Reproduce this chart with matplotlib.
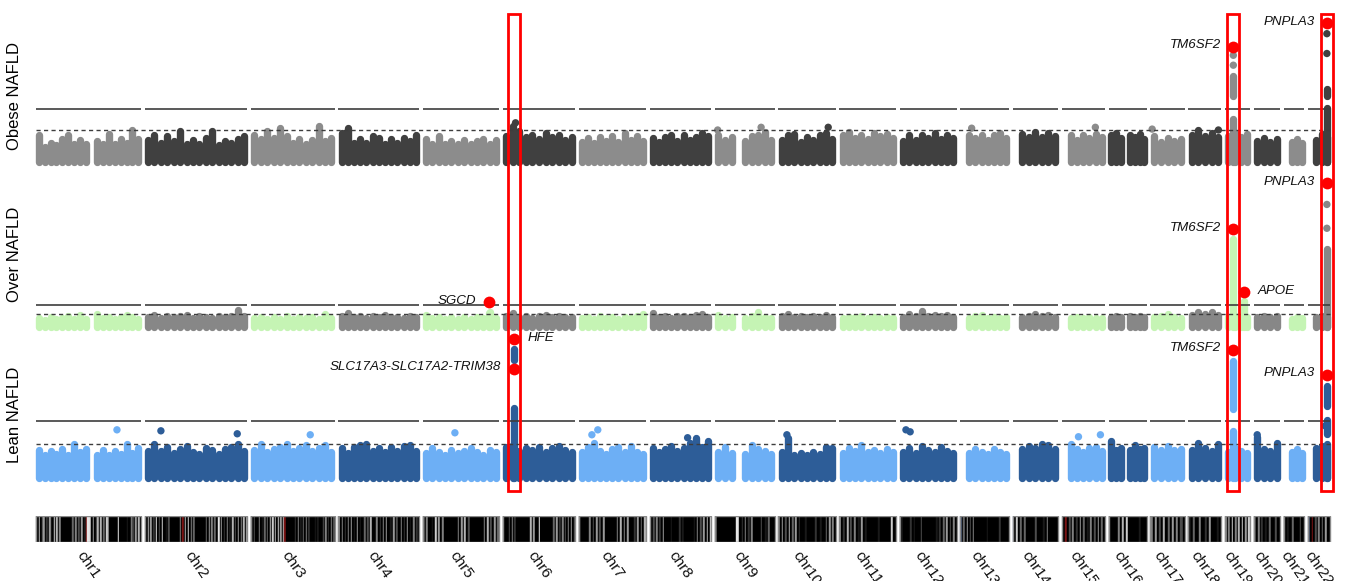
import matplotlib.pyplot as plt
from matplotlib.patches import Rectangle

plt.rcParams['font.family'] = ['Liberation Sans', 'DejaVu Sans']

# chromosome lengths (Mb, hg19)
CHR_LEN = [249.3, 243.2, 198.0, 191.2, 180.9, 171.1, 159.1, 146.4, 141.2, 135.5, 135.0,
           133.9, 115.2, 107.3, 102.5, 90.4, 81.2, 78.1, 59.1, 63.0, 48.1, 51.3]
CHR_NAMES = ["chr%d" % i for i in range(1, 23)]
GAP = 8.9

SUGGESTIVE = 5.0
GENOME_WIDE = 7.3
BASE = 1.5

# max -log10(p) per bin along each chromosome (None = no SNPs)
obese_tops = [
    [4.5, 3.1, 3.6, 3.3, 4.0, 4.4, 3.5, 3.9, 3.4, None, 3.8, 3.4, 4.6, 3.5, 4.0, 3.6, 5.0, 4.0],
    [3.9, 4.4, 3.6, 4.3, 3.8, 4.9, 3.4, 3.9, 3.5, 4.1, 4.9, 3.3, 3.8, 3.6, 4.0, 4.3],
    [4.5, 4.0, 4.9, 4.1, 5.2, 4.3, 3.6, 4.0, 3.5, 3.9, 5.5, 3.8, 4.1],
    [4.7, 5.2, 3.6, 4.0, 3.6, 4.3, 4.1, 3.5, 4.0, 3.6, 4.1, 3.8, 4.5],
    [4.0, 3.5, 4.3, 3.4, 3.8, 3.4, 3.9, 3.5, 3.8, 4.0, 3.4, 3.9],
    [4.3, 5.5, 4.9, 4.2, 4.5, 4.0, 4.7, 4.2, 4.5, 3.9, 4.2],
    [3.7, 4.1, 3.6, 4.2, 3.8, 4.3, 3.7, 4.7, 3.9, 4.3, 3.8],
    [4.1, 3.7, 4.2, 4.5, 3.8, 4.5, 3.9, 4.2, 4.7, 4.3],
    [4.4, 3.9, 4.2, None, 3.8, 4.3, 4.5, 4.8, 3.9],
    [3.9, 4.4, 4.6, 3.7, 4.2, 3.9, 4.4, 4.7, 4.0],
    [4.4, 4.8, 4.1, 4.5, 4.0, 4.7, 4.3, 4.6, 4.1],
    [3.8, 4.5, 3.9, 4.4, 4.1, 4.7, 4.0, 4.5, 4.1],
    [None, 4.5, 4.1, 4.5, 3.9, 4.4, 4.7, 4.1],
    [None, 4.6, 4.2, 4.8, 4.2, 4.7, 4.3],
    [None, 4.5, 3.9, 4.4, 4.1, 4.6, 4.2],
    [4.4, 4.7, 4.1, None, 4.5, 4.2, 4.6, 4.0],
    [4.3, 3.7, 4.1, 3.8, 4.0],
    [4.5, 5.0, 4.3, 4.7, 4.2],
    [4.3, 4.7, 4.2, 4.6],
    [3.8, 4.1, 3.7, 4.0],
    [None, 3.7, 4.0, 3.6],
    [None, 3.9, 4.6, 4.2],
]

over_tops = [
    [3.8, 3.4, 4.0, 3.5, 3.9, 4.5, 3.7, 4.6, 3.6, None, 4.8, 3.8, 4.2, 3.6, 4.0, 4.7, 4.1, 3.7],
    [4.2, 4.6, 3.9, 4.3, 4.0, 4.4, 4.7, 3.9, 4.4, 4.1, 3.8, 4.5, 4.0, 4.3, 6.0, 4.4],
    [3.8, 4.2, 3.6, 4.0, 3.7, 4.3, 3.6, 4.1, 3.8, 4.2, 3.7, 4.8, 3.9],
    [4.3, 5.3, 4.0, 4.4, 3.9, 4.5, 4.1, 4.6, 4.0, 4.2, 3.9, 4.5, 4.1],
    [4.6, 3.8, 4.2, 3.6, 4.1, 3.7, 4.0, 3.6, 4.2, 3.8, 5.4, 3.9],
    [4.3, 5.2, 4.1, 4.4, 3.9, 4.3, 4.6, 4.0, 4.3, 4.1, 4.2],
    [3.9, 4.2, 3.7, 4.3, 3.8, 4.1, 3.7, 4.2, 3.9, 4.3, 4.8],
    [5.3, 4.1, 4.4, 3.9, 4.3, 4.5, 4.0, 4.6, 4.8, 4.2],
    [4.6, 3.9, 4.2, None, 3.9, 4.3, 5.4, 4.1, 3.9],
    [4.3, 4.8, 4.2, 4.5, 4.0, 4.4, 4.1, 4.6, 4.2],
    [3.9, 4.2, 4.0, 4.3, 3.8, 4.1, 3.9, 4.2, 3.8],
    [4.2, 4.8, 4.4, 5.8, 4.3, 4.6, 4.4, 4.7, 4.1],
    [None, 3.9, 4.3, 4.7, 3.9, 4.2, 3.8, 4.0],
    [None, 4.2, 4.5, 4.9, 4.3, 4.6, 4.1],
    [None, 3.8, 4.1, 3.9, 4.2, 3.8, 3.9],
    [4.2, 4.4, 4.0, None, 4.3, 4.1, 4.5, 4.0],
    [4.0, 4.3, 4.8, 4.2, 3.9],
    [4.7, 5.4, 4.8, 5.4, 4.6],
    [4.0, 4.3, 4.1, 4.0],
    [4.2, 4.4, 4.1, 4.3],
    [None, 3.7, 4.0, 3.8],
    [None, 4.1, 4.3, 4.2],
]

lean_tops = [
    [4.4, 3.8, 4.3, 4.0, 4.5, 3.9, 5.0, 4.2, 4.5, None, 3.9, 4.4, 3.8, 4.3, 4.0, 5.0, 4.1, 4.6],
    [4.3, 5.0, 4.3, 4.7, 4.1, 4.5, 4.8, 4.2, 4.0, 4.6, 4.4, 4.0, 4.5, 4.7, 5.0, 4.3],
    [4.4, 5.0, 4.2, 4.5, 4.7, 5.0, 4.3, 4.6, 4.9, 4.3, 4.6, 4.9, 4.2],
    [4.6, 4.1, 4.7, 4.9, 5.0, 4.3, 4.6, 4.2, 4.7, 4.3, 4.8, 4.9, 4.3],
    [4.1, 4.6, 4.2, 3.9, 4.4, 4.1, 4.3, 4.6, 4.2, 3.9, 4.4, 4.2],
    [4.7, 4.9, 4.3, 4.6, 4.4, 4.7, 4.2, 4.6, 4.8, 4.4, 4.2],
    [4.2, 4.7, 5.1, 4.3, 4.0, 4.5, 4.7, 4.2, 4.8, 4.2, 4.0],
    [4.6, 4.2, 4.5, 4.8, 4.3, 4.6, 5.1, 5.6, 4.7, 5.3],
    [4.2, 4.7, 4.1, None, 4.0, 4.9, 4.5, 4.3, 4.0],
    [4.2, 5.6, 3.9, 4.1, 3.8, 4.2, 4.0, 4.7, 4.6],
    [4.1, 4.6, 4.3, 4.9, 4.2, 4.4, 4.1, 4.5, 4.2],
    [4.2, 4.6, 4.1, 4.8, 4.4, 4.2, 4.7, 4.3, 4.1],
    [None, 4.1, 4.5, 4.2, 4.0, 4.5, 4.2, 4.0],
    [None, 4.5, 4.8, 4.6, 5.0, 4.9, 4.5],
    [None, 5.0, 4.5, 4.2, 4.6, 4.7, 4.3],
    [5.3, 4.4, 4.6, None, 4.4, 4.9, 4.5, 4.6],
    [4.7, 4.4, 4.8, 4.4, 4.5],
    [4.4, 5.1, 4.6, 4.3, 5.0],
    [4.2, 4.6, 4.3, 4.1],
    [5.7, 4.5, 4.3, 5.1],
    [None, 4.2, 4.5, 4.1],
    [None, 4.6, 4.8, 4.4],
]

# dense runs of SNPs at one locus: (chrom, pos Mb, low, high)
obese_columns = [(19, 19.4, 1.5, 6.2), (19, 19.4, 8.8, 11.0),
                 (22, 44.3, 1.5, 7.4), (22, 44.3, 8.8, 9.6)]
over_columns = [(19, 19.4, 1.5, 24.7), (19, 45.4, 1.5, 8.4),
                (22, 44.3, 1.5, 22.0), (5, 155.8, 1.5, 5.3)]
lean_columns = [(6, 26.0, 1.5, 8.6), (6, 26.0, 13.5, 14.6),
                (19, 19.4, 1.5, 6.3), (19, 19.4, 8.5, 13.4),
                (22, 44.3, 1.5, 5.0), (22, 44.3, 6.0, 7.4), (22, 44.3, 8.8, 10.8)]

# single SNPs: (chrom, pos Mb, -log10 p)
obese_dots = [(9, 6.0, 5.0), (9, 109.0, 5.3), (10, 118.0, 5.3), (13, 27.0, 5.2),
              (15, 80.0, 5.3), (17, 4.0, 5.1), (18, 71.0, 5.0), (6, 30.0, 5.8),
              (19, 19.4, 12.2), (19, 19.4, 13.3), (22, 44.3, 13.5), (22, 44.3, 15.7)]
over_dots = [(22, 44.3, 27.6), (22, 44.3, 33.9)]
lean_dots = [(1, 192.0, 6.4), (2, 38.0, 6.3), (2, 219.0, 6.0), (3, 140.0, 5.9),
             (5, 76.0, 6.1), (7, 31.0, 5.9), (7, 45.0, 6.4), (8, 90.0, 5.6),
             (10, 20.0, 5.9), (12, 14.0, 6.4), (12, 24.0, 6.2), (15, 40.0, 5.7),
             (15, 92.0, 5.9), (20, 8.0, 5.9), (22, 40.5, 6.8)]

# lead SNPs: (gene, chrom, pos Mb, -log10 p, label side)
obese_hits = [("TM6SF2", 19, 19.4, 14.25, "left"), ("PNPLA3", 22, 44.3, 16.9, "left")]
over_hits = [("SGCD", 5, 155.8, 8.1, "left"), ("TM6SF2", 19, 19.4, 27.3, "left"),
             ("APOE", 19, 45.4, 10.7, "right"), ("PNPLA3", 22, 44.3, 39.5, "left")]
lean_hits = [("HFE", 6, 26.1, 15.6, "right"), ("SLC17A3-SLC17A2-TRIM38", 6, 25.9, 12.6, "left"),
             ("TM6SF2", 19, 19.4, 14.5, "left"), ("PNPLA3", 22, 44.3, 12.0, "left")]

highlight_loci = [(6, 26.0), (19, 19.4), (22, 44.3)]

# gene density bands per chromosome (0 = black ... 9 = light, r = red, b = blue)
ideogram_bands = [
    "5070360206108070500000000405030601r9980602707040860000009000001005306070",
    "507060209030800103000000050r0708050400000000406050400906020501070306050706",
    "1030005010404070807080607r0000000205010405020000101000305020503",
    "60502050601060100403070005020506001060300502060105020",
    "30500108060500000000506070300000000507030604",
    "10003050200000000007060009000000000406020503050603",
    "100000503060306000000050705060002060407",
    "80305020600001000020100000010503060708",
    "40000000000009900205020500000300104000",
    "5060307040602000100000200100406050",
    "6020703050106010000001000000800",
    "010000201000300000000102040603050",
    "b040603050000000010000000200000",
    "b08040400000300010500000",
    "80r030502060401050306040",
    "00000507080000001000",
    "5060307040605030",
    "1040050020600010",
    "605080507080608",
    "30502010400300",
    "0010040000300",
    "b0r0305040600",
]

OFFS = []
_p = 0.0
for _n in CHR_LEN:
    OFFS.append(_p)
    _p += _n + GAP
GENOME_END = OFFS[-1] + CHR_LEN[-1]

W, H = 1346, 581
XLIM = (-14.2, 3092.0)
LEFT, WIDTH = 30 / W, 1310 / W
PT = 5.3
LINE = "#3d3d3d"


def gx(ch, pos):
    return OFFS[ch - 1] + pos


def band_color(c):
    if c == "r":
        return "#7a1414"
    if c == "b":
        return "#4a5a7a"
    g = int(c) / 9 * 0.9
    return (g, g, g)


def draw_panel(ax, tops, columns, dots, hits, colors, ymax):
    ax.set_xlim(*XLIM)
    ax.set_ylim(0, ymax)
    ax.axis("off")

    for i, t in enumerate(tops):
        n = len(t)
        xs = [OFFS[i] + (j + 0.5) * CHR_LEN[i] / n for j, v in enumerate(t) if v is not None]
        ys = [v for v in t if v is not None]
        ax.vlines(xs, BASE, ys, colors=colors[i % 2], linewidth=PT, capstyle="round", zorder=2)

    for ch, pos, lo, hi in columns:
        ax.vlines(gx(ch, pos), lo, hi, colors=colors[(ch - 1) % 2], linewidth=PT,
                  capstyle="round", zorder=2, clip_on=False)

    if dots:
        ax.scatter([gx(c, p) for c, p, v in dots], [v for c, p, v in dots], s=PT ** 2,
                   c=[colors[(c - 1) % 2] for c, p, v in dots], linewidths=0, zorder=2, clip_on=False)

    ax.hlines([GENOME_WIDE] * 22, OFFS, [o + n for o, n in zip(OFFS, CHR_LEN)],
              colors=LINE, linewidth=1.2, zorder=3)
    ax.hlines(SUGGESTIVE, 0, GENOME_END, colors=LINE, linewidth=1.0,
              linestyles=(0, (3, 2.4)), zorder=3)

    for name, ch, pos, val, side in hits:
        x = gx(ch, pos)
        ax.scatter(x, val, s=72, c="#ff0000", linewidths=0, zorder=4, clip_on=False)
        dx = -9 if side == "left" else 9.5
        ax.annotate(name, (x, val), xytext=(dx, 1), textcoords="offset points",
                    ha="right" if side == "left" else "left", va="center",
                    fontsize=9.6, style="italic", color="#111111", zorder=5)


fig = plt.figure(figsize=(W / 100, H / 100), dpi=100)

panels = [
    ("Obese NAFLD", obese_tops, obese_columns, obese_dots, obese_hits,
     ("#8c8c8c", "#404040"), 10, 175, 9.0, 96),
    ("Over NAFLD", over_tops, over_columns, over_dots, over_hits,
     ("#c5f4b4", "#878787"), 175, 332.6, 3.78, 254),
    ("Lean NAFLD", lean_tops, lean_columns, lean_dots, lean_hits,
     ("#6daff5", "#2d5d98"), 332.6, 493, 9.87, 415),
]

for label, tops, cols, dots, hits, colors, top_px, bot_px, scale, lab_y in panels:
    ax = fig.add_axes([LEFT, 1 - bot_px / H, WIDTH, (bot_px - top_px) / H])
    draw_panel(ax, tops, cols, dots, hits, colors, (bot_px - top_px) / scale)
    fig.text(15 / W, 1 - lab_y / H, label, rotation=90, ha="center", va="center", fontsize=12)

# ideogram
axi = fig.add_axes([LEFT, 1 - 542 / H, WIDTH, 26 / H])
axi.set_xlim(*XLIM)
axi.set_ylim(0, 1)
axi.axis("off")
for i, bands in enumerate(ideogram_bands):
    n = len(bands)
    w = CHR_LEN[i] / n
    xs = [OFFS[i] + (j + 0.5) * w for j in range(n)]
    cols = [band_color(c) for c in bands]
    axi.bar(xs, 1, width=w, bottom=0, color=cols, edgecolor=cols, linewidth=0.3)
    axi.add_patch(Rectangle((OFFS[i], 0), CHR_LEN[i], 1, fill=False, edgecolor="#8a8a8a", linewidth=1.0))
    axi.text(OFFS[i] + CHR_LEN[i] / 2, -0.25, CHR_NAMES[i], rotation=-55, ha="center", va="top",
             fontsize=11, color="#111111", clip_on=False)

# highlight boxes across all panels
axh = fig.add_axes([LEFT, 1 - 491 / H, WIDTH, 477 / H])
axh.set_xlim(*XLIM)
axh.set_ylim(0, 1)
axh.axis("off")
axh.patch.set_alpha(0)
for ch, pos in highlight_loci:
    axh.add_patch(Rectangle((gx(ch, pos) - 14.2, 0), 28.4, 1, fill=False,
                            edgecolor="#ff0000", linewidth=2.0, clip_on=False))

fig.savefig("out.png", dpi=100)
plt.close()
